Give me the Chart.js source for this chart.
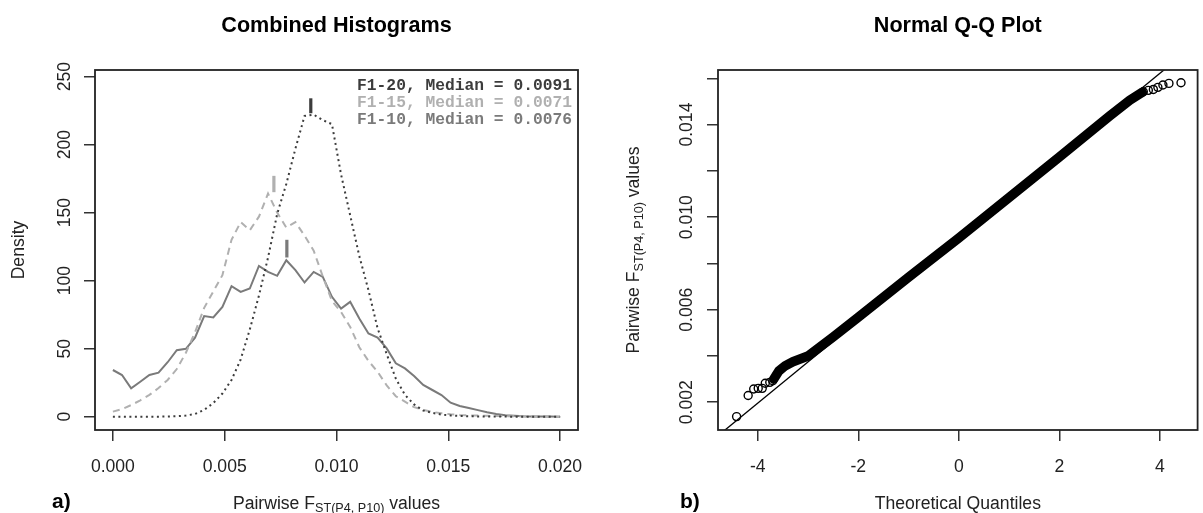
<!DOCTYPE html>
<html><head><meta charset="utf-8">
<script src="https://cdn.jsdelivr.net/npm/chart.js@4.4.0/dist/chart.umd.min.js"></script>
<style>
html,body{margin:0;padding:0;background:#fff;}
#wrap{position:relative;width:1203px;height:513px;overflow:hidden;background:#fff;}
canvas{position:absolute;top:0;}
#c1{left:0;width:600px;height:513px;}
#c2{left:600px;width:603px;height:513px;}
</style></head><body>
<div id="wrap"><canvas id="c1" width="600" height="513"></canvas><canvas id="c2" width="603" height="513"></canvas></div>
<script>
// ---------------- data: panel a) ----------------
const fstGrid = [0, 0.000408, 0.000816, 0.001224, 0.001633, 0.002041, 0.002449, 0.002857, 0.003265, 0.003673,
  0.004082, 0.004490, 0.004898, 0.005306, 0.005714, 0.006122, 0.006531, 0.006939, 0.007347, 0.007755,
  0.008163, 0.008571, 0.008980, 0.009388, 0.009796, 0.010204, 0.010612, 0.011020, 0.011429, 0.011837,
  0.012245, 0.012653, 0.013061, 0.013469, 0.013878, 0.014286, 0.014694, 0.015102, 0.015510, 0.015918,
  0.016327, 0.016735, 0.017143, 0.017551, 0.017959, 0.018367, 0.018776, 0.019184, 0.019592, 0.020000];
const densF110 = [34.3, 30.6, 20.8, 25.7, 30.6, 32.3, 40, 48.9, 49.9, 58, 73.9, 72.9, 80.7, 95.9, 91.7, 94.2, 110.8, 106.4, 103.5, 115.0,
  107.7, 98.6, 106.4, 102.7, 88.1, 79.5, 84.4, 72.2, 61.2, 58.2, 50.2, 39.2, 35.5, 29.9, 23.3, 19.6, 15.9, 10.3, 7.8, 6.3,
  4.8, 3.3, 2.0, 1.0, 0.6, 0.3, 0.2, 0.1, 0.05, 0];
const densF115 = [3.7, 5.5, 8.5, 12, 16, 21, 27, 35, 47, 62, 80, 92, 104, 130, 143, 137, 147, 164, 150, 139,
  143, 133, 122, 103, 85, 77, 66, 51, 41, 33, 23, 15, 11, 7, 5, 3.5, 2.5, 1.8, 1.3, 1.0,
  0.8, 0.6, 0.5, 0.4, 0.3, 0.2, 0.15, 0.1, 0.05, 0];
const densF120 = [0, 0, 0, 0, 0, 0, 0.1, 0.3, 0.8, 2.0, 5, 10, 17, 27, 42, 64, 89, 117, 149, 171,
  197, 221, 222, 218, 215, 178, 148, 118, 93, 65, 46, 28, 16, 9, 4.5, 2.8, 1.5, 0.9, 0.5, 0.3,
  0.2, 0.1, 0.1, 0.05, 0, 0, 0, 0, 0, 0];
const seriesNames = ['F1-20', 'F1-15', 'F1-10'];
const medianLabels = ['0.0091', '0.0071', '0.0076'];
const medianMarkX = [0.00885, 0.00720, 0.00778];
const medianMarkLo = [223, 165, 117];
const medianMarkHi = [234, 177, 130];
const xTicksA = [0, 0.005, 0.010, 0.015, 0.020];
const yTicksA = [0, 50, 100, 150, 200, 250];

// ---------------- data: panel b) ----------------
const qqBandTheo = [-3.68, -3.58, -3.45, -3.30, -3.00, -2.50, -2.00, -1.00, 0.00, 1.00, 2.00, 3.00, 3.40, 3.65];
const qqBandSample = [0.00300, 0.00335, 0.00358, 0.00375, 0.00400, 0.00482, 0.00567, 0.00740, 0.00910, 0.01085, 0.01260, 0.01437, 0.01505, 0.01540];
const qqTailTheo = [-4.42, -4.19, -4.08, -3.99, -3.91, -3.85, -3.76, -3.70, 3.67, 3.77, 3.87, 3.96, 4.06, 4.18, 4.42];
const qqTailSample = [0.00138, 0.00229, 0.00257, 0.00260, 0.00260, 0.00282, 0.00286, 0.00293, 0.01542, 0.01548, 0.01552, 0.01561, 0.01571, 0.01578, 0.01581];
const qqLineTheo = [-5, 5];
const qqLineSample = [0.000177, 0.017999];
const xTicksB = [-4, -2, 0, 2, 4];
const yTicksB = [0.002, 0.004, 0.006, 0.008, 0.010, 0.012, 0.014, 0.016];
const yLabelsB = [0.002, 0.006, 0.010, 0.014];

// ---------------- styles ----------------
const SANS = "'Liberation Sans', Arial, Helvetica, sans-serif";
const MONO = "'Liberation Mono', 'Courier New', monospace";
const TICK_FONT = '17.6px ' + SANS;
const LAB_FONT = '17.6px ' + SANS;
const SUB_FONT = '12.6px ' + SANS;
const TITLE_FONT = 'bold 21.6px ' + SANS;
const INK = '#222';
const col20 = '#3c3c3c', col15 = '#b0b0b0', col10 = '#7a7a7a';

Chart.defaults.font.family = SANS;

function pts(xs, ys) { return xs.map((x, i) => ({ x: x, y: ys[i] })); }

function axisCommon(ticksArr, extra) {
  return Object.assign({
    type: 'linear',
    afterBuildTicks: s => { s.ticks = ticksArr.map(v => ({ value: v })); },
    ticks: { display: false },
    grid: { drawOnChartArea: false, drawTicks: true, tickLength: 11, color: '#333', lineWidth: 1.5 },
    border: { display: false }
  }, extra);
}

function drawSubLabel(ctx, cx, cy, rot) {
  const a = 'Pairwise F', b = 'ST(P4, P10)', c = ' values';
  ctx.save();
  ctx.translate(cx, cy);
  if (rot) ctx.rotate(-Math.PI / 2);
  ctx.font = LAB_FONT; const w1 = ctx.measureText(a).width, w3 = ctx.measureText(c).width;
  ctx.font = SUB_FONT; const w2 = ctx.measureText(b).width;
  let x = -(w1 + w2 + w3) / 2;
  ctx.fillStyle = INK; ctx.textAlign = 'left'; ctx.textBaseline = 'alphabetic';
  ctx.font = LAB_FONT; ctx.fillText(a, x, 0); x += w1;
  ctx.font = SUB_FONT; ctx.fillText(b, x, 3.5); x += w2;
  ctx.font = LAB_FONT; ctx.fillText(c, x, 0);
  ctx.restore();
}

function drawBox(ctx, ca) {
  ctx.save();
  ctx.strokeStyle = INK; ctx.lineWidth = 1.8;
  ctx.strokeRect(ca.left, ca.top, ca.right - ca.left, ca.bottom - ca.top);
  ctx.restore();
}

function drawXTickLabels(ctx, scale, vals, fmt, baseline) {
  ctx.save();
  ctx.font = TICK_FONT; ctx.fillStyle = INK; ctx.textAlign = 'center'; ctx.textBaseline = 'alphabetic';
  vals.forEach(v => ctx.fillText(fmt(v), scale.getPixelForValue(v), baseline));
  ctx.restore();
}
function drawYTickLabels(ctx, scale, vals, fmt, baseX) {
  ctx.save();
  ctx.font = TICK_FONT; ctx.fillStyle = INK; ctx.textAlign = 'center'; ctx.textBaseline = 'alphabetic';
  vals.forEach(v => {
    ctx.save(); ctx.translate(baseX, scale.getPixelForValue(v)); ctx.rotate(-Math.PI / 2);
    ctx.fillText(fmt(v), 0, 0); ctx.restore();
  });
  ctx.restore();
}

// ---------------- panel a) ----------------
const panelA = {
  id: 'panelA',
  afterDraw(chart) {
    const ctx = chart.ctx, ca = chart.chartArea;
    drawBox(ctx, ca);
    ctx.save();
    ctx.fillStyle = '#000'; ctx.font = TITLE_FONT; ctx.textAlign = 'center'; ctx.textBaseline = 'alphabetic';
    ctx.fillText('Combined Histograms', (ca.left + ca.right) / 2, 32);
    ctx.restore();
    drawXTickLabels(ctx, chart.scales.x, xTicksA, v => v.toFixed(3), 471.5);
    drawYTickLabels(ctx, chart.scales.y, yTicksA, v => String(v), 70);
    ctx.save();
    ctx.fillStyle = INK; ctx.font = LAB_FONT; ctx.textAlign = 'center'; ctx.textBaseline = 'alphabetic';
    ctx.translate(24, (ca.top + ca.bottom) / 2); ctx.rotate(-Math.PI / 2); ctx.fillText('Density', 0, 0);
    ctx.restore();
    drawSubLabel(ctx, (ca.left + ca.right) / 2, 508.5, false);
    ctx.save();
    ctx.fillStyle = '#000'; ctx.font = 'bold 21px ' + SANS; ctx.textAlign = 'left'; ctx.textBaseline = 'alphabetic';
    ctx.fillText('a)', 52, 508);
    ctx.restore();
    // legend text
    const cols = [col20, col15, col10];
    const base = [90, 107, 124.3];
    ctx.save();
    ctx.font = 'bold 16.3px ' + MONO; ctx.textAlign = 'right'; ctx.textBaseline = 'alphabetic';
    seriesNames.forEach((n, i) => {
      ctx.fillStyle = cols[i];
      ctx.fillText(n + ', Median = ' + medianLabels[i], 572, base[i]);
    });
    ctx.restore();
  }
};

const markerSets = seriesNames.map((n, i) => ({
  type: 'line',
  data: [{ x: medianMarkX[i], y: medianMarkLo[i] }, { x: medianMarkX[i], y: medianMarkHi[i] }],
  borderColor: [col20, col15, col10][i], borderWidth: 3.2, pointRadius: 0, borderCapStyle: 'butt'
}));

new Chart(document.getElementById('c1'), {
  type: 'line',
  data: {
    datasets: [
      { data: pts(fstGrid, densF120), borderColor: col20, borderWidth: 2, borderDash: [2, 3.5], pointRadius: 0, tension: 0, fill: false },
      { data: pts(fstGrid, densF115), borderColor: col15, borderWidth: 2, borderDash: [7, 5], pointRadius: 0, tension: 0, fill: false },
      { data: pts(fstGrid, densF110), borderColor: col10, borderWidth: 2, pointRadius: 0, tension: 0, fill: false }
    ].concat(markerSets)
  },
  options: {
    responsive: false, animation: false, events: [],
    layout: { padding: { top: 70, right: 22, left: 0, bottom: 0 } },
    plugins: { legend: { display: false }, tooltip: { enabled: false }, title: { display: false } },
    scales: {
      x: axisCommon(xTicksA, { min: -0.0008, max: 0.0208, afterFit: s => { s.height = 83; } }),
      y: axisCommon(yTicksA, { min: -9.8, max: 254.8, afterFit: s => { s.width = 95; } })
    }
  },
  plugins: [panelA]
});

// ---------------- panel b) ----------------
const panelB = {
  id: 'panelB',
  afterDraw(chart) {
    const ctx = chart.ctx, ca = chart.chartArea;
    drawBox(ctx, ca);
    ctx.save();
    ctx.fillStyle = '#000'; ctx.font = TITLE_FONT; ctx.textAlign = 'center'; ctx.textBaseline = 'alphabetic';
    ctx.fillText('Normal Q-Q Plot', (ca.left + ca.right) / 2, 32);
    ctx.restore();
    drawXTickLabels(ctx, chart.scales.x, xTicksB, v => String(v), 471.5);
    drawYTickLabels(ctx, chart.scales.y, yLabelsB, v => v.toFixed(3), 91.7);
    ctx.save();
    ctx.fillStyle = INK; ctx.font = LAB_FONT; ctx.textAlign = 'center'; ctx.textBaseline = 'alphabetic';
    ctx.fillText('Theoretical Quantiles', (ca.left + ca.right) / 2, 508.5);
    ctx.restore();
    drawSubLabel(ctx, 39, (ca.top + ca.bottom) / 2, true);
    ctx.save();
    ctx.fillStyle = '#000'; ctx.font = 'bold 21px ' + SANS; ctx.textAlign = 'left'; ctx.textBaseline = 'alphabetic';
    ctx.fillText('b)', 80, 508);
    ctx.restore();
  }
};

new Chart(document.getElementById('c2'), {
  type: 'scatter',
  data: {
    datasets: [
      { type: 'line', data: pts(qqLineTheo, qqLineSample), borderColor: '#000', borderWidth: 1.3, pointRadius: 0, tension: 0, fill: false },
      { type: 'line', data: pts(qqBandTheo, qqBandSample), borderColor: '#000', borderWidth: 9.5, pointRadius: 0, tension: 0, fill: false, borderCapStyle: 'round', borderJoinStyle: 'round' },
      { type: 'scatter', data: pts(qqTailTheo, qqTailSample), pointRadius: 4, pointBorderWidth: 1.4, pointBorderColor: '#000', pointBackgroundColor: 'rgba(0,0,0,0)', showLine: false }
    ]
  },
  options: {
    responsive: false, animation: false, events: [],
    layout: { padding: { top: 70, right: 1, left: 0, bottom: 0 } },
    plugins: { legend: { display: false }, tooltip: { enabled: false }, title: { display: false } },
    scales: {
      x: axisCommon(xTicksB, { min: -4.79, max: 4.75, afterFit: s => { s.height = 83; } }),
      y: axisCommon(yTicksB, { min: 0.0008, max: 0.01636, afterFit: s => { s.width = 118; } })
    }
  },
  plugins: [panelB]
});
</script>
</body></html>
